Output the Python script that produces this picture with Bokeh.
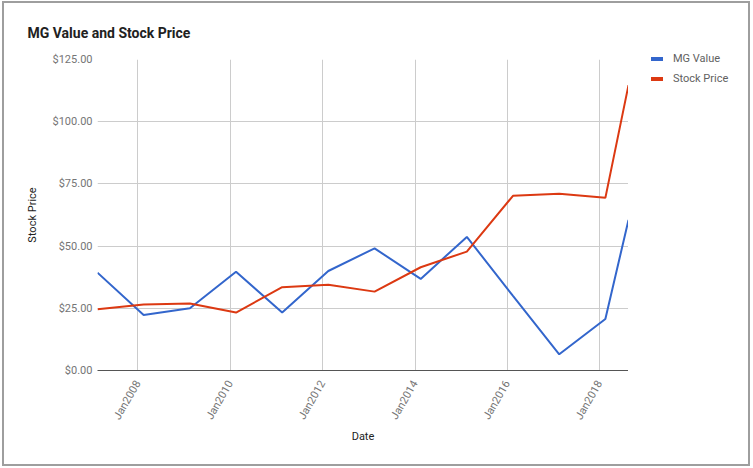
import math
import pandas as pd
from bokeh.plotting import figure
from bokeh.layouts import row
from bokeh.models import (FixedTicker, DatetimeTickFormatter, Div,
                          NumeralTickFormatter, Range1d, ColumnDataSource)
from bokeh.embed import file_html
from bokeh.resources import INLINE

# ---- data ----
dates = ["2007-02-15", "2008-02-15", "2009-02-15", "2010-02-15", "2011-02-15",
         "2012-02-15", "2013-02-15", "2014-02-15", "2015-02-15", "2016-02-15",
         "2017-02-15", "2018-02-15", "2018-08-17"]
mg_value = [39.3, 22.3, 25.0, 39.7, 23.3, 40.0, 49.1, 36.8, 53.7, 30.0, 6.5, 20.7, 60.5]
stock_price = [24.6, 26.5, 26.9, 23.3, 33.5, 34.5, 31.7, 41.5, 47.8, 70.2, 71.0, 69.4, 114.7]
tick_dates = ["2008-01-01", "2010-01-01", "2012-01-01", "2014-01-01", "2016-01-01", "2018-01-01"]
y_ticks = [0, 25, 50, 75, 100, 125]
series_names = ["MG Value", "Stock Price"]
series_colors = ["#3366CC", "#DC3912"]

x = pd.to_datetime(dates)
src = ColumnDataSource(dict(date=x, mg=mg_value, sp=stock_price))
x_tick_ms = [pd.Timestamp(t).value // 10**6 for t in tick_dates]

FONT = "Roboto"

p = figure(width=624, height=461, x_axis_type="datetime",
           x_range=Range1d(x[0], x[-1]), y_range=Range1d(0, 125),
           output_backend="svg", toolbar_location=None,
           min_border_left=93, min_border_right=0, min_border_top=56, min_border_bottom=94)

# title
p.title.text = "MG Value and Stock Price"
p.title.text_font = FONT
p.title.text_font_size = "14px"
p.title.text_font_style = "bold"
p.title.text_color = "#212121"
p.title.text_line_height = 1.0
p.title.offset = -70
p.title.standoff = 37

p.outline_line_color = None
p.background_fill_color = "white"
p.border_fill_color = "white"

# grid
p.xgrid.ticker = FixedTicker(ticks=x_tick_ms)
p.ygrid.ticker = FixedTicker(ticks=y_ticks)
p.grid.grid_line_color = "#cccccc"
p.grid.grid_line_width = 1

# x axis
xa = p.xaxis[0]
xa.ticker = FixedTicker(ticks=x_tick_ms)
fmt = "%b%Y"
xa.formatter = DatetimeTickFormatter(years=fmt, months=fmt, days=fmt, hours=fmt,
                                     minutes=fmt, seconds=fmt, milliseconds=fmt,
                                     microseconds=fmt, hourmin=fmt, minsec=fmt)
xa.major_label_orientation = math.pi / 3
xa.major_label_text_font = FONT
xa.major_label_text_font_size = "11px"
xa.major_label_text_color = "#757575"
xa.major_tick_line_color = None
xa.minor_tick_line_color = None
xa.major_tick_out = 0
xa.minor_tick_out = 0
xa.axis_line_color = "#555555"
xa.axis_line_width = 1
xa.major_label_standoff = 11
xa.axis_label = "Date"
xa.axis_label_text_font = FONT
xa.axis_label_text_font_size = "11px"
xa.axis_label_text_font_style = "normal"
xa.axis_label_text_color = "#222222"
xa.axis_label_standoff = 2

# y axis
ya = p.yaxis[0]
ya.ticker = FixedTicker(ticks=y_ticks)
ya.formatter = NumeralTickFormatter(format="$0,0.00")
ya.major_label_text_font = FONT
ya.major_label_text_font_size = "11px"
ya.major_label_text_color = "#757575"
ya.major_tick_line_color = None
ya.minor_tick_line_color = None
ya.major_tick_out = 0
ya.minor_tick_out = 0
ya.axis_line_color = None
ya.major_label_standoff = 5
ya.axis_label = "Stock Price"
ya.axis_label_text_font = FONT
ya.axis_label_text_font_size = "11px"
ya.axis_label_text_font_style = "normal"
ya.axis_label_text_color = "#222222"
ya.axis_label_standoff = 11

# lines
p.line("date", "mg", source=src, line_color=series_colors[0], line_width=2)
p.line("date", "sp", source=src, line_color=series_colors[1], line_width=2)

# ---- legend panel to the right of the plot area (built from the series lists) ----
rows_html = "".join(
    f'<div style="position:absolute;left:23px;top:{46 + 20 * i}px;height:20px;'
    f'display:flex;align-items:center;white-space:nowrap;">'
    f'<span style="display:inline-block;width:12px;height:4px;background:{c};'
    f'margin-right:10px;"></span>'
    f'<span style="font-family:{FONT};font-size:11px;color:#616161;">{n}</span></div>'
    for i, (n, c) in enumerate(zip(series_names, series_colors))
)
lg = Div(text=f'<div style="position:relative;width:120px;height:461px;">{rows_html}</div>',
         width=120, height=461, styles={"margin": "0", "padding": "0"})

layout = row(p, lg, spacing=0,
             styles={"border": "2px solid #9e9e9e", "margin-left": "2px", "margin-top": "1px"})

open("out.html", "w").write(file_html(layout, INLINE))
